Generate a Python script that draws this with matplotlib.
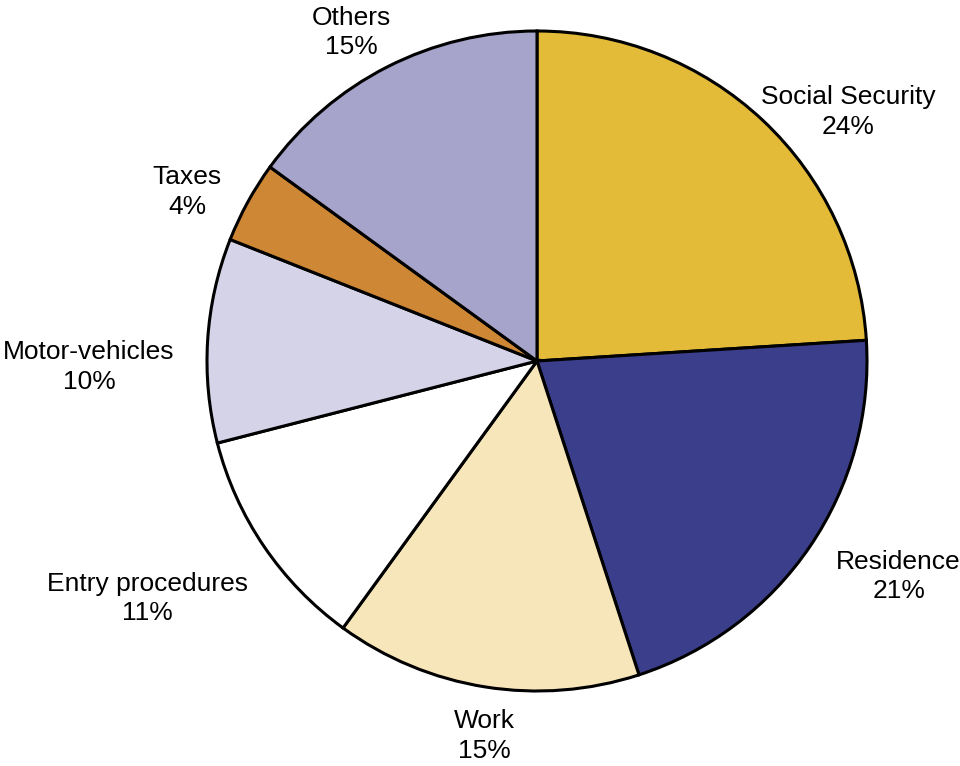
import numpy as np
import matplotlib.pyplot as plt

categories = ["Social Security", "Residence", "Work", "Entry procedures",
              "Motor-vehicles", "Taxes", "Others"]
shares = [24, 21, 15, 11, 10, 4, 15]
colors = ["#E4BB38", "#3B3E8B", "#F6E6B9", "#FFFFFF",
          "#D5D3E8", "#CE8734", "#A6A4CA"]

# extra label shifts in pixels (right, down)
nudges = [(10, 28), (18, 2), (7, 0), (-14, 24), (-10, 30), (-10, 14), (-7, 10)]

plt.rcParams["font.family"] = ["Liberation Sans", "DejaVu Sans"]

fig = plt.figure(figsize=(9.6, 7.66), dpi=100)
# pie centred at (537, 361) px with a 330 px radius
cx, cy, r = 537, 361, 330
ax = fig.add_axes([(cx - r) / 960, (766 - cy - r) / 766, 2 * r / 960, 2 * r / 766])

wedges, _ = ax.pie(shares, colors=colors, startangle=90, counterclock=False,
                   wedgeprops=dict(edgecolor="black", linewidth=2.2))
ax.set_xlim(-1, 1)
ax.set_ylim(-1, 1)
ax.set_aspect("equal")
ax.axis("off")

fig.canvas.draw()
renderer = fig.canvas.get_renderer()
px2pt = 72 / fig.dpi

# put each label just outside its wedge, pushed out by half its box
dist = 1.07
for w, name, val, (nx, ny) in zip(wedges, categories, shares, nudges):
    label = f"{name}\n{val}%"
    theta = np.deg2rad((w.theta1 + w.theta2) / 2)
    x, y = dist * np.cos(theta), dist * np.sin(theta)
    t = ax.text(x, y, label, ha="center", va="center", fontsize=19, linespacing=1.3)
    bb = t.get_window_extent(renderer)
    t.remove()
    dx = (bb.width / 2 * np.cos(theta) + nx) * px2pt
    dy = (bb.height / 2 * np.sin(theta) - ny) * px2pt
    ax.annotate(label, (x, y), xytext=(dx, dy), textcoords="offset points",
                ha="center", va="center", fontsize=19, linespacing=1.3,
                annotation_clip=False)

fig.savefig("out.png", dpi=100)
